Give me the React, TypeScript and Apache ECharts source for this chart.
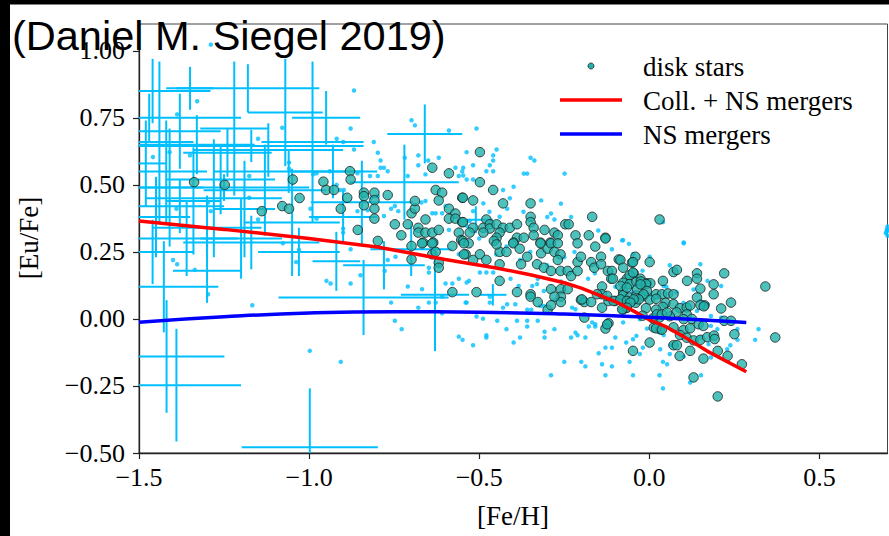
import React, { useEffect, useRef } from "react";
import * as echarts from "echarts";

// ---------------- data ----------------
const titleText = "(Daniel M. Siegel 2019)";
const xAxisTitle = "[Fe/H]";
const yAxisTitle = "[Eu/Fe]";
const legendLabels = ["disk stars", "Coll. + NS mergers", "NS mergers"];
const xTicks = [-1.5, -1.0, -0.5, 0.0, 0.5];
const yTicks = [-0.5, -0.25, 0.0, 0.25, 0.5, 0.75, 1.0];

// Coll. + NS mergers model curve
const collNsCurve: number[][] = [
  [-1.5, 0.365], [-1.25, 0.334], [-1.0, 0.3], [-0.8, 0.268], [-0.6, 0.222],
  [-0.45, 0.19], [-0.35, 0.165], [-0.25, 0.135], [-0.2, 0.115], [-0.15, 0.09],
  [-0.1, 0.065], [-0.05, 0.032], [0.0, -0.003], [0.05, -0.03], [0.1, -0.065],
  [0.17, -0.12], [0.285, -0.197],
];

// NS mergers model curve
const nsCurve: number[][] = [
  [-1.5, -0.012], [-1.25, 0.008], [-1.0, 0.022], [-0.75, 0.027], [-0.5, 0.025],
  [-0.25, 0.018], [0.0, 0.006], [0.285, -0.013],
];

// halo stars with error bars: [Fe/H], [Eu/Fe], xerr, yerr
const errorBars: number[][] = [
  [-1.46, 0.85, 0.17, 0.12], [-1.47, 0.75, 0.27, 0.09], [-1.18, 0.86, 0.21, 0.09],
  [-1.35, 0.86, 0.07, 0.08], [-1.07, 0.77, 0.11, 0.2], [-0.99, 0.66, 0.15, 0.3],
  [-0.66, 0.69, 0.11, 0.11], [-1.38, 0.7, 0.12, 0.14], [-1.22, 0.71, 0.1, 0.25],
  [-1.33, 0.65, 0.17, 0.11], [-1.24, 0.62, 0.13, 0.09], [-1.12, 0.63, 0.22, 0.1],
  [-1.17, 0.645, 0.33, 0.06], [-1.42, 0.55, 0.12, 0.19], [-1.26, 0.52, 0.16, 0.13],
  [-0.93, 0.55, 0.13, 0.1], [-1.41, 0.49, 0.1, 0.22], [-1.25, 0.49, 0.25, 0.05],
  [-1.13, 0.48, 0.18, 0.17], [-0.845, 0.435, 0.15, 0.155], [-0.72, 0.51, 0.16, 0.14],
  [-1.38, 0.42, 0.13, 0.1], [-1.19, 0.41, 0.09, 0.18], [-1.45, 0.38, 0.1, 0.15],
  [-1.3, 0.34, 0.16, 0.12], [-1.05, 0.36, 0.14, 0.2], [-0.9, 0.38, 0.1, 0.1],
  [-1.36, 0.3, 0.15, 0.14], [-1.17, 0.285, 0.2, 0.1], [-1.46, 0.25, 0.12, 0.12],
  [-1.03, 0.25, 0.12, 0.09], [-0.92, 0.215, 0.07, 0.11], [-1.3, 0.18, 0.1, 0.12],
  [-0.78, 0.2, 0.12, 0.09], [-1.427, 0.12, 0.16, 0.17], [-0.84, 0.08, 0.25, 0.14],
  [-0.63, 0.09, 0.1, 0.21], [-0.7, 0.26, 0.12, 0.1], [-0.51, 0.37, 0.05, 0.05],
  [-0.46, 0.09, 0.04, 0.04], [-1.419, -0.14, 0.17, 0.21], [-1.39, -0.247, 0.19, 0.21],
  [-0.998, -0.479, 0.2, 0.22], [-1.48, 0.58, 0.06, 0.16], [-1.44, 0.66, 0.1, 0.3],
  [-1.28, 0.45, 0.2, 0.22], [-1.34, 0.44, 0.08, 0.2], [-1.2, 0.3, 0.12, 0.15],
  [-1.06, 0.55, 0.22, 0.08], [-0.95, 0.75, 0.1, 0.1],
];

// halo stars without error bars (small light-blue points)
const haloStars: number[][] = [
  [-1.289, 1.023], [-1.388, 0.763], [-1.329, 0.812], [-1.15, 0.672], [-1.079, 0.713],
  [-1.459, 0.604], [-1.41, 0.622], [-1.35, 0.61], [-1.059, 0.583], [-1.059, 0.56],
  [-1.176, 0.533], [-1.176, 0.452], [-1.297, 0.434], [-1.289, 0.402], [-1.15, 0.371],
  [-1.39, 0.411], [-0.868, 0.852], [-0.878, 0.71], [-0.699, 0.741], [-0.689, 0.722],
  [-0.589, 0.703], [-0.919, 0.672], [-0.9, 0.66], [-0.81, 0.66], [-0.868, 0.632],
  [-0.798, 0.62], [-0.719, 0.601], [-0.679, 0.61], [-0.65, 0.591], [-0.619, 0.601],
  [-0.79, 0.591], [-0.79, 0.564], [-0.78, 0.564], [-0.769, 0.551], [-0.679, 0.573],
  [-0.71, 0.533], [-0.821, 0.533], [-0.798, 0.533], [-0.858, 0.543], [-0.978, 0.543],
  [-0.939, 0.551], [-0.919, 0.5], [-0.909, 0.481], [-0.898, 0.481], [-0.858, 0.402],
  [-0.828, 0.405], [-0.78, 0.384], [-0.759, 0.411], [-0.748, 0.421], [-0.738, 0.402],
  [-0.57, 0.564], [-0.56, 0.533], [-0.55, 0.55], [-0.658, 0.539], [-0.67, 0.434],
  [-0.658, 0.44], [-0.638, 0.394], [-0.628, 0.394], [-0.609, 0.394], [-0.599, 0.421],
  [-0.589, 0.332], [-0.817, 0.452], [-0.798, 0.458], [-0.9, 0.337], [-0.9, 0.322],
  [-0.996, 0.411], [-0.978, 0.374], [-0.988, 0.539], [-0.508, 0.71], [-0.537, 0.622],
  [-0.449, 0.632], [-0.459, 0.61], [-0.459, 0.591], [-0.518, 0.573], [-0.469, 0.573],
  [-0.479, 0.551], [-0.459, 0.551], [-0.547, 0.564], [-0.547, 0.535], [-0.537, 0.52],
  [-0.518, 0.52], [-0.349, 0.601], [-0.338, 0.591], [-0.369, 0.542], [-0.359, 0.542],
  [-0.249, 0.542], [-0.399, 0.493], [-0.43, 0.481], [-0.488, 0.431], [-0.518, 0.402],
  [-0.418, 0.411], [-0.318, 0.442], [-0.44, 0.381], [-0.289, 0.393], [-0.279, 0.371],
  [-0.08, 0.293], [-0.528, 0.365], [-0.537, 0.347], [0.04, 0.361], [-0.077, 0.294],
  [0.101, 0.285], [-1.297, 0.092], [-1.388, 0.204], [-1.4, 0.22], [-1.336, 0.183],
  [-1.167, 0.051], [-1.077, 0.282], [-1.038, 0.212], [-1.03, 0.257], [-0.998, -0.119],
  [-0.907, -0.16], [-0.878, 0.26], [-0.769, 0.22], [-0.746, 0.232], [-0.778, 0.179],
  [-0.849, 0.163], [-0.949, 0.142], [-0.937, 0.132], [-0.878, 0.132], [-0.71, 0.121],
  [-0.668, 0.111], [-0.648, 0.191], [-0.648, 0.173], [-0.759, 0.061], [-0.679, 0.042],
  [-0.648, 0.061], [-0.628, 0.061], [-0.609, 0.021], [-0.748, -0.007], [-0.728, -0.038],
  [-0.599, 0.132], [-0.579, 0.132], [-0.609, 0.083], [-0.56, -0.066], [-0.549, -0.078],
  [-0.56, 0.15], [-0.54, 0.061], [-0.56, 0.241], [-0.518, -0.098], [-0.479, -0.061],
  [-0.479, -0.069], [-0.42, -0.038], [-0.399, -0.088], [-0.38, -0.069], [-0.447, -0.007],
  [-0.389, -0.007], [-0.359, -0.007], [-0.359, -0.028], [-0.328, -0.007], [-0.308, -0.048],
  [-0.308, -0.069], [-0.279, -0.038], [-0.25, -0.16], [-0.289, -0.21], [-0.23, -0.069],
  [-0.217, -0.051], [-0.211, -0.061], [-0.188, -0.069], [-0.2, -0.16], [-0.188, -0.177],
  [-0.149, -0.128], [-0.139, -0.169], [-0.129, -0.21], [-0.11, -0.177], [-0.129, -0.107],
  [-0.11, -0.107], [-0.1, -0.069], [-0.178, -0.028], [-0.159, -0.028], [-0.134, -0.028],
  [-0.537, 0.136], [-0.53, 0.142], [-0.498, 0.173], [-0.479, 0.173], [-0.459, 0.173],
  [-0.537, 0.061], [-0.508, 0.009], [-0.489, 0.001], [-0.469, 0.083], [-0.469, 0.061],
  [-0.43, 0.042], [-0.418, 0.055], [-0.394, 0.055], [-0.359, 0.034], [-0.347, 0.034],
  [-0.32, 0.048], [-0.31, 0.048], [-0.344, 0.123], [-0.384, 0.123], [-0.408, 0.15],
  [-0.328, 0.15], [-0.31, 0.104], [-0.279, 0.071], [-0.227, 0.042], [-0.217, 0.036],
  [-0.168, -0.013], [-0.159, -0.02], [0.101, 0.282], [0.15, 0.204], [0.171, 0.142],
  [0.211, 0.123], [-0.048, 0.241], [0.001, 0.232], [0.042, 0.123], [0.15, 0.067],
  [0.181, 0.011], [0.211, 0.005], [0.321, -0.038], [0.311, -0.078], [0.259, -0.078],
  [0.238, -0.098], [0.229, -0.113], [0.181, -0.144], [0.152, -0.21], [0.12, -0.237],
  [0.04, -0.259], [0.03, -0.21], [-0.048, -0.21], [-0.058, -0.16], [0.04, -0.16],
  [0.052, -0.169], [0.06, -0.131], [0.062, -0.098], [0.032, -0.113], [-0.019, -0.107],
  [-0.028, -0.131], [-0.048, -0.076], [-0.068, -0.088], [-0.038, -0.063], [-0.007, -0.036],
  [0.03, -0.05], [0.042, -0.06], [0.174, -0.094], [0.15, -0.069], [0.259, -0.038],
  [0.101, -0.14], [0.2, -0.038], [0.181, -0.026], [0.14, 0.03], [0.171, 0.055],
  [-0.077, -0.013], [-0.028, -0.001], [0.021, -0.013], [0.04, 0.009], [-0.42, 0.27],
  [-0.38, 0.22], [-0.35, 0.25], [-0.3, 0.2], [-0.25, 0.23], [-0.22, 0.25],
  [-0.18, 0.15], [-0.16, 0.17], [-0.1, 0.12], [-0.05, 0.1], [0.0, 0.09],
  [-0.02, 0.18], [0.05, 0.12], [0.08, 0.1], [0.1, 0.06], [0.13, 0.11],
  [0.06, 0.2], [-0.26, 0.14], [-0.33, 0.13], [-0.45, 0.24], [-0.5, 0.3],
  [-0.47, 0.4], [-0.41, 0.45], [-0.37, 0.4], [-0.3, 0.38], [-0.26, 0.43],
  [-0.23, 0.38], [-0.15, 0.33], [-0.11, 0.26], [-0.06, 0.28], [0.695, 0.32],
  [0.698, 0.335], [0.7, 0.345], [0.7, 0.31], [0.697, 0.325], [0.7, 0.33],
];

// disk stars (teal circles)
const diskStars: number[][] = [
  [-1.338, 0.51], [-1.248, 0.5], [-1.139, 0.402], [-1.079, 0.421], [-1.059, 0.411],
  [-1.048, 0.52], [-1.028, 0.451], [-0.958, 0.512], [-0.95, 0.481], [-0.927, 0.481],
  [-0.88, 0.551], [-0.878, 0.52], [-0.888, 0.452], [-0.907, 0.411], [-0.839, 0.471],
  [-0.839, 0.458], [-0.839, 0.424], [-0.808, 0.471], [-0.808, 0.443], [-0.808, 0.411],
  [-0.808, 0.374], [-0.769, 0.462], [-0.857, 0.332], [-0.798, 0.291], [-0.748, 0.353],
  [-0.729, 0.312], [-0.71, 0.353], [-0.699, 0.394], [-0.689, 0.412], [-0.689, 0.44],
  [-0.679, 0.34], [-0.679, 0.322], [-0.658, 0.371], [-0.658, 0.322], [-0.638, 0.322],
  [-0.619, 0.332], [-0.638, 0.564], [-0.589, 0.543], [-0.628, 0.481], [-0.609, 0.471],
  [-0.619, 0.442], [-0.589, 0.411], [-0.57, 0.393], [-0.589, 0.374], [-0.57, 0.374],
  [-0.55, 0.361], [-0.55, 0.452], [-0.56, 0.322], [-0.553, 0.294], [-0.665, 0.285],
  [-0.635, 0.285], [-0.498, 0.622], [-0.498, 0.51], [-0.459, 0.481], [-0.548, 0.452],
  [-0.518, 0.442], [-0.43, 0.431], [-0.349, 0.431], [-0.349, 0.381], [-0.349, 0.361],
  [-0.168, 0.381], [-0.479, 0.371], [-0.548, 0.361], [-0.518, 0.34], [-0.488, 0.34],
  [-0.469, 0.353], [-0.469, 0.337], [-0.449, 0.353], [-0.43, 0.34], [-0.41, 0.34],
  [-0.389, 0.353], [-0.528, 0.322], [-0.488, 0.322], [-0.44, 0.322], [-0.449, 0.303],
  [-0.389, 0.303], [-0.369, 0.303], [-0.34, 0.34], [-0.34, 0.312], [-0.308, 0.332],
  [-0.279, 0.322], [-0.269, 0.312], [-0.247, 0.353], [-0.237, 0.353], [-0.217, 0.312],
  [-0.178, 0.312], [-0.129, 0.303], [-0.548, 0.291], [-0.457, 0.291], [-0.399, 0.285],
  [-0.32, 0.285], [-0.291, 0.285], [-0.531, 0.282], [-0.54, 0.241], [-0.518, 0.22],
  [-0.498, 0.241], [-0.479, 0.22], [-0.44, 0.25], [-0.42, 0.25], [-0.449, 0.278],
  [-0.4, 0.282], [-0.381, 0.262], [-0.359, 0.232], [-0.377, 0.204], [-0.44, 0.204],
  [-0.44, 0.142], [-0.33, 0.204], [-0.31, 0.191], [-0.318, 0.245], [-0.299, 0.262],
  [-0.32, 0.282], [-0.289, 0.282], [-0.269, 0.282], [-0.279, 0.25], [-0.261, 0.241],
  [-0.269, 0.22], [-0.289, 0.179], [-0.261, 0.179], [-0.24, 0.179], [-0.23, 0.16],
  [-0.289, 0.111], [-0.26, 0.111], [-0.26, 0.083], [-0.26, 0.063], [-0.279, 0.083],
  [-0.299, 0.034], [-0.289, 0.051], [-0.24, 0.111], [-0.211, 0.212], [-0.211, 0.282],
  [-0.201, 0.232], [-0.211, 0.179], [-0.171, 0.212], [-0.162, 0.191], [-0.142, 0.232],
  [-0.142, 0.204], [-0.122, 0.179], [-0.11, 0.179], [-0.112, 0.15], [-0.09, 0.222],
  [-0.159, 0.27], [-0.201, 0.071], [-0.191, 0.063], [-0.171, 0.063], [-0.191, 0.005],
  [-0.139, 0.121], [-0.139, 0.092], [-0.139, 0.042], [-0.12, 0.067], [-0.12, -0.016],
  [-0.129, -0.036], [-0.1, 0.067], [-0.077, 0.067], [-0.077, 0.1], [-0.508, 0.1],
  [-0.389, 0.1], [-0.349, 0.092], [-0.349, 0.083], [-0.328, 0.063], [-0.699, 0.272],
  [-0.699, 0.222], [-0.668, 0.282], [-0.638, 0.282], [-0.638, 0.241], [-0.628, 0.25],
  [-0.619, 0.21], [-0.619, 0.191], [-0.579, 0.272], [-0.545, 0.241], [-0.545, 0.282],
  [-0.579, 0.1], [0.03, 0.371], [-0.129, 0.3], [0.001, 0.212], [-0.041, 0.232],
  [-0.085, 0.22], [-0.077, 0.191], [-0.051, 0.21], [-0.046, 0.17], [-0.107, 0.15],
  [-0.066, 0.15], [-0.026, 0.15], [-0.007, 0.133], [0.003, 0.133], [0.04, 0.142],
  [0.071, 0.175], [0.081, 0.183], [0.111, 0.142], [0.14, 0.17], [0.14, 0.15],
  [0.22, 0.17], [0.15, 0.113], [0.189, 0.129], [0.189, 0.092], [0.341, 0.121],
  [0.37, -0.069], [0.14, 0.08], [0.162, 0.051], [0.211, 0.039], [0.24, 0.061],
  [0.22, -0.007], [0.24, -0.007], [0.25, -0.057], [0.272, -0.169], [0.23, -0.138],
  [0.201, -0.119], [0.201, -0.289], [0.13, -0.218], [0.159, -0.148], [0.12, -0.119],
  [0.089, -0.138], [0.071, -0.098], [0.081, -0.098], [0.001, -0.088], [-0.048, -0.119],
  [0.032, -0.038], [0.013, -0.032], [-0.048, 0.212], [-0.058, 0.163], [-0.048, 0.173],
  [-0.077, 0.135], [-0.058, 0.13], [-0.038, 0.138], [-0.025, 0.14], [-0.01, 0.13],
  [0.02, 0.092], [0.037, 0.092], [0.055, 0.095], [0.071, 0.092], [-0.077, 0.088],
  [-0.058, 0.08], [-0.038, 0.088], [-0.018, 0.085], [0.001, 0.072], [0.02, 0.075],
  [0.048, 0.06], [0.071, 0.055], [0.09, 0.04], [0.11, 0.043], [0.12, 0.05],
  [0.15, 0.052], [0.16, 0.047], [0.04, 0.045], [0.02, 0.035], [-0.01, 0.04],
  [-0.04, 0.06], [-0.067, 0.042], [-0.077, 0.035], [0.11, 0.017], [0.08, 0.025],
  [0.06, 0.01], [0.03, 0.005], [0.01, 0.002], [-0.02, 0.012], [0.02, -0.035],
  [0.037, -0.04], [0.071, -0.031], [0.1, -0.042], [0.12, -0.035], [0.09, -0.06],
  [0.11, -0.07], [0.13, -0.08], [0.15, -0.078], [0.17, -0.068], [0.19, -0.062],
  [0.192, -0.075], [0.022, 0.017], [0.037, 0.017], [0.052, 0.024], [0.101, -0.001],
  [0.125, 0.0], [0.145, -0.02], [0.159, -0.026], [-0.124, -0.02], [-0.198, 0.073],
  [-0.154, 0.092], [-0.124, 0.086], [-0.105, 0.067], [-0.085, 0.073], [-0.066, 0.067],
  [-0.085, 0.123], [-0.066, 0.117], [-0.036, 0.111], [-0.026, 0.129], [-0.007, 0.104],
  [-0.017, 0.092], [-0.031, 0.073], [-0.046, 0.073], [-0.056, 0.061], [-0.066, 0.042],
  [-0.08, 0.036],
];

// ---------------- layout / style ----------------
const X_MIN = -1.5, X_MAX = 0.7, Y_MIN = -0.5, Y_MAX = 1.1;
const SERIF = "'Liberation Serif', 'Times New Roman', serif";
const SANS = "'Liberation Sans', Arial, Helvetica, sans-serif";
const HALO_COLOR = "#00bfff";
const DISK_COLOR = "#20b2aa";

const fmt = (v: number, d: number) => (v < 0 ? "\u2212" : "") + Math.abs(v).toFixed(d);
const clamp = (v: number, lo: number, hi: number) => Math.max(lo, Math.min(hi, v));

export default function App() {
  const ref = useRef<HTMLDivElement>(null);

  useEffect(() => {
    if (!ref.current) return;
    const chart = echarts.init(ref.current, null, { renderer: "svg" });

    const option: any = {
      animation: false,
      backgroundColor: "#ffffff",
      grid: {
        left: 139, top: 24, right: 1.5, bottom: 83,
        show: true, borderColor: "#444", borderWidth: 1, backgroundColor: "transparent",
      },
      xAxis: {
        type: "value", min: X_MIN, max: X_MAX,
        axisLine: { show: true, onZero: false, lineStyle: { color: "#222", width: 1.3 } },
        axisTick: { show: true, inside: false, length: 6, customValues: xTicks, lineStyle: { color: "#222", width: 1.2 } },
        axisLabel: {
          customValues: xTicks, margin: 11, color: "#000", fontFamily: SERIF, fontSize: 26,
          formatter: (v: number) => fmt(v, 1),
        },
        splitLine: { show: false },
      },
      yAxis: {
        type: "value", min: Y_MIN, max: Y_MAX,
        axisLine: { show: true, onZero: false, lineStyle: { color: "#222", width: 1.3 } },
        axisTick: { show: true, inside: false, length: 6, customValues: yTicks, lineStyle: { color: "#222", width: 1.2 } },
        axisLabel: {
          customValues: yTicks, margin: 14, color: "#000", fontFamily: SERIF, fontSize: 26,
          formatter: (v: number) => fmt(v, 2),
        },
        splitLine: { show: false },
      },
      series: [
        {
          type: "custom",
          name: "halo error bars",
          data: errorBars,
          encode: { x: 0, y: 1 },
          z: 1,
          renderItem: (_params: any, api: any) => {
            const x = api.value(0), y = api.value(1), xe = api.value(2), ye = api.value(3);
            const children: any[] = [];
            const style = { stroke: HALO_COLOR, lineWidth: 2 };
            if (y >= Y_MIN && y <= Y_MAX) {
              const a = api.coord([clamp(x - xe, X_MIN, X_MAX), y]);
              const b = api.coord([clamp(x + xe, X_MIN, X_MAX), y]);
              children.push({ type: "line", shape: { x1: a[0], y1: a[1], x2: b[0], y2: b[1] }, style });
            }
            if (x >= X_MIN && x <= X_MAX) {
              const c = api.coord([x, clamp(y - ye, Y_MIN, Y_MAX)]);
              const d = api.coord([x, clamp(y + ye, Y_MIN, Y_MAX)]);
              children.push({ type: "line", shape: { x1: c[0], y1: c[1], x2: d[0], y2: d[1] }, style });
            }
            return { type: "group", children };
          },
        },
        {
          type: "scatter",
          name: "halo stars",
          data: haloStars,
          symbol: "circle",
          symbolSize: 4.5,
          itemStyle: { color: HALO_COLOR },
          clip: true,
          z: 2,
        },
        {
          type: "scatter",
          name: "disk stars",
          data: diskStars,
          symbol: "circle",
          symbolSize: 9.5,
          itemStyle: { color: DISK_COLOR, borderColor: "#1b1b1b", borderWidth: 1 },
          clip: true,
          z: 3,
        },
        {
          type: "line",
          name: "Coll. + NS mergers",
          data: collNsCurve,
          showSymbol: false,
          smooth: false,
          lineStyle: { color: "#ff0000", width: 3.5 },
          z: 4,
        },
        {
          type: "line",
          name: "NS mergers",
          data: nsCurve,
          showSymbol: false,
          smooth: true,
          lineStyle: { color: "#0000ff", width: 3.5 },
          z: 4,
        },
      ],
      graphic: [
        // legend
        { type: "circle", z: 10, shape: { cx: 591, cy: 66, r: 3 }, style: { fill: DISK_COLOR, stroke: "#1b1b1b", lineWidth: 0.8 } },
        { type: "line", z: 10, shape: { x1: 560, y1: 100, x2: 622, y2: 100 }, style: { stroke: "#ff0000", lineWidth: 3.5 } },
        { type: "line", z: 10, shape: { x1: 560, y1: 134, x2: 622, y2: 134 }, style: { stroke: "#0000ff", lineWidth: 3.5 } },
        { type: "text", z: 10, x: 643, y: 67, style: { text: legendLabels[0], font: `27px ${SERIF}`, fill: "#000", verticalAlign: "middle", align: "left" } },
        { type: "text", z: 10, x: 643, y: 101, style: { text: legendLabels[1], font: `27px ${SERIF}`, fill: "#000", verticalAlign: "middle", align: "left" } },
        { type: "text", z: 10, x: 643, y: 135, style: { text: legendLabels[2], font: `27px ${SERIF}`, fill: "#000", verticalAlign: "middle", align: "left" } },
        // axis titles
        { type: "text", z: 10, x: 513, y: 516, style: { text: xAxisTitle, font: `27px ${SERIF}`, fill: "#000", verticalAlign: "middle", align: "center" } },
        { type: "text", z: 10, x: 29, y: 238, rotation: Math.PI / 2, style: { text: yAxisTitle, font: `27px ${SERIF}`, fill: "#000", verticalAlign: "middle", align: "center" } },
        // black frame bands
        { type: "rect", z: 20, shape: { x: 0, y: 0, width: 889, height: 4.5 }, style: { fill: "#000" } },
        { type: "rect", z: 20, shape: { x: 0, y: 0, width: 10, height: 536 }, style: { fill: "#000" } },
        // overlay title
        { type: "text", z: 30, x: 12, y: 35, style: { text: titleText, font: `41.5px ${SANS}`, fill: "#000", verticalAlign: "middle", align: "left" } },
      ],
    };

    chart.setOption(option);
    return () => chart.dispose();
  }, []);

  return (
    <div
      ref={ref}
      style={{ position: "absolute", left: 0, top: 0, width: 889, height: 536, background: "#fff" }}
    />
  );
}
